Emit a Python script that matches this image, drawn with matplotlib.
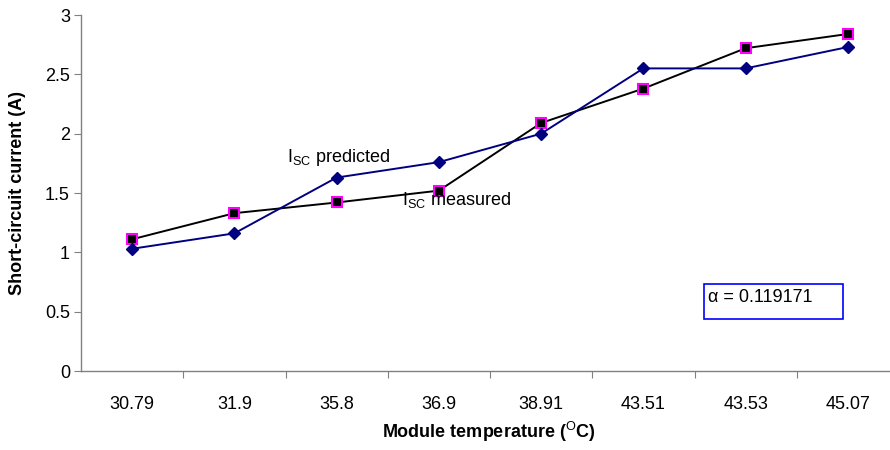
import matplotlib
matplotlib.use("Agg")
import matplotlib.pyplot as plt
from matplotlib.patches import Rectangle

plt.rcParams['font.family'] = ['Liberation Sans', 'DejaVu Sans']
plt.rcParams['mathtext.fontset'] = 'custom'
plt.rcParams['mathtext.rm'] = 'Liberation Sans'
plt.rcParams['mathtext.bf'] = 'Liberation Sans:bold'
plt.rcParams['mathtext.it'] = 'Liberation Sans:italic'

categories = ["30.79", "31.9", "35.8", "36.9", "38.91", "43.51", "43.53", "45.07"]
predicted = [1.03, 1.16, 1.63, 1.76, 2.00, 2.55, 2.55, 2.73]
measured = [1.11, 1.33, 1.42, 1.52, 2.09, 2.38, 2.72, 2.84]
y_ticks = [0, 0.5, 1, 1.5, 2, 2.5, 3]
y_tick_labels = ["0", "0.5", "1", "1.5", "2", "2.5", "3"]
alpha_text = "α = 0.119171"

W, H = 890, 450
fig = plt.figure(figsize=(W / 100, H / 100), dpi=100)
left, right, top, bottom = 81, 899, 15, 371
ax = fig.add_axes([left / W, 1 - bottom / H, (right - left) / W, (bottom - top) / H])

x = list(range(len(categories)))
ax.plot(x, measured, color='black', lw=1.4, marker='s', ms=7,
        markerfacecolor='black', markeredgecolor='#ff00ff', markeredgewidth=1.5, zorder=3)
ax.plot(x, predicted, color='#000080', lw=1.4, marker='D', ms=6,
        markerfacecolor='#000080', markeredgecolor='#000080', zorder=4)

FS = 13
ax.set_xlim(-0.5, len(categories) - 0.5)
ax.set_ylim(0, 3)
ax.set_yticks(y_ticks)
ax.set_yticklabels(y_tick_labels)
ax.set_xticks([i + 0.5 for i in range(len(categories))])
ax.set_xticklabels([])
ax.set_xticks(x, minor=True)
ax.set_xticklabels(categories, minor=True)
ax.tick_params(axis='x', which='minor', length=0, pad=18, labelsize=FS)
ax.tick_params(axis='x', which='major', length=5, direction='out', color='#808080')
ax.tick_params(axis='y', length=5, direction='out', color='#808080', labelsize=FS, pad=3)

for s in ['top', 'right']:
    ax.spines[s].set_visible(False)
for s in ['left', 'bottom']:
    ax.spines[s].set_color('#808080')
    ax.spines[s].set_linewidth(1.0)

ax.set_ylabel("Short-circuit current (A)", fontsize=FS, fontweight='bold')
ax.yaxis.set_label_coords(-(left - 18) / (right - left), 0.5)
ax.yaxis.label.set_va('center')
ax.set_xlabel(r"Module temperature ($^{\mathrm{O}}$C)", fontsize=FS, fontweight='bold')
ax.xaxis.set_label_coords((489 - left) / (right - left), -(432 - bottom) / (bottom - top))
ax.xaxis.label.set_va('center')

ax.text(1.515, 1.76, r"I$_{\mathrm{SC}}$ predicted", fontsize=FS, va='baseline', ha='left')
ax.text(2.64, 1.40, r"I$_{\mathrm{SC}}$ measured", fontsize=FS, va='baseline', ha='left')

# alpha box (figure pixel coords)
bx0, by0, bx1, by1 = 704, 284, 843, 319
fig.patches.append(Rectangle((bx0 / W, 1 - by1 / H), (bx1 - bx0) / W, (by1 - by0) / H,
                             transform=fig.transFigure, fill=False, edgecolor='#0000ff', lw=1.2))
fig.text(708 / W, 1 - 298 / H, alpha_text, fontsize=FS, va='center', ha='left')

fig.savefig("out.png", dpi=100)
